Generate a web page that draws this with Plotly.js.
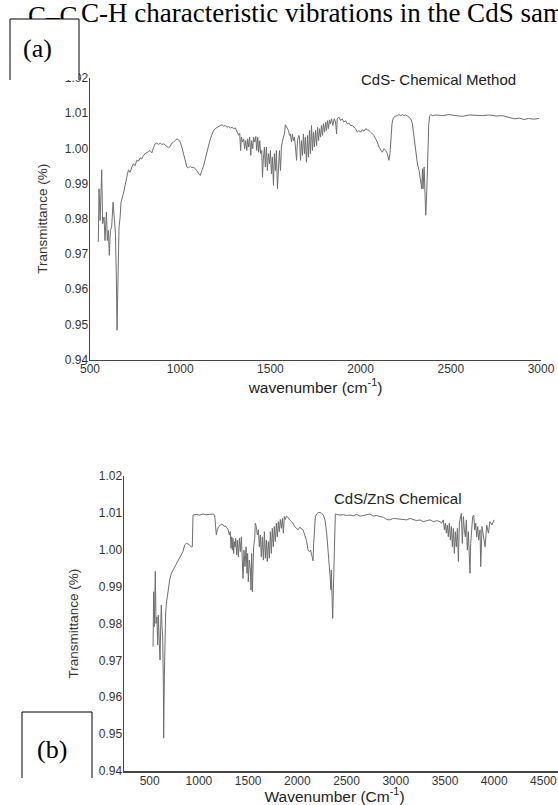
<!DOCTYPE html>
<html>
<head>
<meta charset="utf-8">
<script src="https://cdn.plot.ly/plotly-3.0.1.min.js"></script>
<style>
html,body{margin:0;padding:0;background:#fff;overflow:hidden;}
#chart{width:558px;height:805px;}
</style>
</head>
<body>
<div id="chart"></div>
<script>
// ---- data ----
const A_wn = [546,550,556,565,570,578,583,591,596,602,607,613,620,628,635,641,646,650,656,661,
667,672,685,694,704,713,722,732,741,750,759,769,778,787,796,806,815,824,833,843,
852,861,870,880,889,898,907,917,926,935,944,954,963,972,982,991,1000,1009,1019,1028,
1037,1046,1056,1065,1074,1083,1093,1102,1111,1120,1130,1139,1148,1157,1167,1176,1185,1194,1204,1213,
1222,1232,1241,1250,1259,1269,1278,1287,1296,1306,1315,1324,1330,1335,1339,1346,1352,1357,1363,1369,
1374,1380,1385,1391,1396,1402,1407,1413,1419,1424,1430,1435,1441,1446,1452,1456,1461,1467,1472,1478,
1483,1489,1495,1500,1506,1511,1517,1522,1528,1533,1539,1545,1550,1556,1561,1567,1572,1578,1583,1589,
1595,1600,1606,1611,1617,1622,1628,1633,1639,1645,1650,1657,1661,1667,1672,1678,1683,1689,1694,1700,
1706,1711,1717,1722,1728,1733,1739,1744,1750,1756,1761,1767,1772,1778,1783,1789,1794,1800,1806,1811,
1817,1822,1828,1833,1839,1846,1854,1861,1867,1870,1880,1889,1898,1907,1917,1926,1935,1944,1954,1963,
1972,1982,1991,2000,2009,2019,2028,2037,2046,2056,2065,2074,2083,2093,2102,2111,2120,2130,2139,2148,
2157,2163,2169,2174,2180,2189,2204,2213,2222,2232,2241,2250,2259,2269,2278,2287,2296,2306,2315,2324,
2333,2339,2343,2346,2352,2357,2361,2367,2372,2378,2383,2389,2398,2417,2454,2491,2528,2565,2602,2639,
2676,2713,2750,2787,2824,2852,2880,2906,2930,2960,2989];
const A_t = [0.9734,0.9885,0.9795,0.9939,0.9786,0.9805,0.9738,0.9819,0.9738,0.9767,0.9696,0.9767,0.9776,0.9847,0.9800,0.9757,0.9634,0.9483,0.9653,0.9776,
0.9805,0.9847,0.9871,0.9899,0.9918,0.9939,0.9932,0.9947,0.9956,0.9951,0.9966,0.9964,0.9973,0.9970,0.9980,0.9985,0.9989,0.9991,0.9994,0.9987,
1.0002,1.0013,1.0015,1.0011,1.0015,1.0011,1.0013,1.0008,1.0005,1.0002,1.0005,1.0015,1.0018,1.0022,1.0027,1.0024,1.0018,1.0004,0.9985,0.9966,
0.9947,0.9945,0.9949,0.9945,0.9947,0.9942,0.9937,0.9928,0.9923,0.9937,0.9951,0.9970,0.9989,1.0008,1.0027,1.0039,1.0051,1.0056,1.0060,1.0062,
1.0065,1.0067,1.0063,1.0065,1.0060,1.0062,1.0058,1.0060,1.0056,1.0058,1.0046,1.0037,1.0043,0.9994,1.0032,1.0018,1.0027,0.9999,1.0022,0.9994,
1.0027,1.0004,1.0032,0.9980,1.0022,0.9999,1.0032,1.0018,1.0034,0.9994,1.0032,0.9989,1.0022,0.9985,0.9994,0.9918,0.9970,1.0004,0.9947,1.0004,
0.9937,0.9985,0.9956,0.9994,0.9928,0.9975,0.9895,0.9985,0.9937,0.9994,0.9885,0.9975,0.9994,0.9937,1.0004,1.0022,1.0032,1.0041,1.0067,1.0062,
1.0056,1.0051,1.0037,1.0041,1.0018,1.0041,1.0022,1.0032,1.0004,0.9966,1.0022,1.0037,1.0032,0.9966,1.0022,0.9980,1.0041,0.9985,1.0032,0.9961,
1.0037,0.9975,1.0051,0.9985,1.0065,0.9994,1.0046,1.0004,1.0051,1.0008,1.0060,1.0022,1.0056,1.0032,1.0065,1.0037,1.0070,1.0046,1.0075,1.0051,
1.0079,1.0056,1.0081,1.0070,1.0084,1.0065,1.0084,1.0075,1.0041,1.0084,1.0089,1.0079,1.0084,1.0075,1.0079,1.0070,1.0072,1.0065,1.0065,1.0060,
1.0056,1.0046,1.0051,1.0046,1.0053,1.0049,1.0056,1.0053,1.0051,1.0046,1.0041,1.0037,1.0027,1.0018,1.0004,0.9994,0.9989,0.9999,0.9994,0.9985,
0.9966,0.9985,1.0032,1.0070,1.0084,1.0091,1.0093,1.0096,1.0093,1.0096,1.0093,1.0095,1.0092,1.0089,1.0084,1.0070,1.0032,0.9985,0.9956,0.9937,
0.9899,0.9885,0.9942,0.9885,0.9947,0.9861,0.9810,0.9880,0.9985,1.0070,1.0093,1.0096,1.0093,1.0095,1.0093,1.0096,1.0093,1.0091,1.0095,1.0093,
1.0093,1.0095,1.0092,1.0093,1.0089,1.0084,1.0086,1.0082,1.0085,1.0083,1.0085];

const B_wn = [534,540,547,557,564,574,581,588,598,605,611,618,625,632,639,642,649,655,662,672,
686,703,720,737,754,771,788,804,821,838,855,872,889,906,923,933,940,974,1008,1042,
1075,1109,1143,1160,1170,1177,1187,1201,1218,1235,1255,1275,1296,1309,1319,1326,1333,1340,1346,1353,
1360,1367,1373,1384,1390,1401,1411,1421,1431,1441,1448,1458,1468,1479,1489,1495,1502,1512,1523,1529,
1536,1543,1550,1556,1567,1573,1583,1594,1604,1614,1624,1634,1644,1655,1665,1675,1685,1695,1705,1716,
1726,1736,1746,1756,1766,1777,1787,1797,1807,1817,1827,1838,1848,1858,1868,1878,1888,1905,1922,1939,
1956,1973,1990,2007,2024,2041,2058,2075,2092,2109,2122,2135,2149,2159,2166,2173,2183,2196,2213,2230,
2247,2264,2281,2298,2315,2325,2335,2342,2345,2352,2359,2366,2372,2379,2386,2400,2433,2467,2501,2535,
2569,2603,2637,2671,2704,2738,2772,2806,2840,2874,2908,2941,2975,3009,3043,3077,3111,3145,3179,3212,
3246,3280,3314,3348,3382,3416,3450,3466,3483,3494,3504,3514,3524,3534,3544,3555,3565,3575,3585,3595,
3605,3615,3626,3636,3646,3656,3666,3676,3687,3697,3707,3717,3727,3737,3748,3754,3761,3771,3781,3792,
3802,3812,3822,3832,3842,3856,3863,3876,3890,3907,3924,3941,3957,3978,3998];
const B_t = [0.9737,0.9886,0.9791,0.9941,0.9800,0.9818,0.9742,0.9823,0.9746,0.9701,0.9782,0.9850,0.9791,0.9764,0.9638,0.9489,0.9656,0.9791,0.9828,0.9859,
0.9886,0.9918,0.9936,0.9945,0.9954,0.9959,0.9972,0.9979,0.9990,0.9995,1.0013,1.0017,1.0016,1.0013,1.0007,1.0008,1.0094,1.0096,1.0094,1.0097,
1.0095,1.0096,1.0097,1.0094,1.0072,1.0040,1.0054,1.0063,1.0067,1.0070,1.0064,1.0063,1.0055,1.0040,1.0049,1.0004,1.0035,0.9999,1.0031,0.9990,
1.0022,1.0008,1.0031,0.9986,1.0026,0.9981,1.0031,0.9995,1.0035,0.9972,0.9922,0.9999,0.9954,1.0008,0.9936,0.9990,0.9913,0.9972,0.9945,0.9891,
0.9990,0.9886,0.9972,1.0008,1.0031,1.0072,1.0063,1.0040,1.0054,1.0008,1.0040,0.9981,1.0035,0.9972,1.0049,0.9977,1.0026,0.9968,1.0022,0.9977,
1.0049,0.9990,1.0058,1.0008,1.0063,1.0022,1.0072,1.0035,1.0076,1.0049,1.0082,1.0058,1.0085,1.0045,1.0090,1.0082,1.0091,1.0088,1.0081,1.0076,
1.0072,1.0063,1.0058,1.0054,1.0061,1.0058,1.0054,1.0040,1.0026,0.9999,0.9995,0.9999,0.9986,0.9970,1.0017,1.0063,1.0090,1.0097,1.0101,1.0101,
1.0099,1.0094,1.0081,1.0045,0.9999,0.9954,0.9918,0.9891,0.9945,0.9891,0.9814,0.9891,0.9990,1.0072,1.0097,1.0096,1.0094,1.0095,1.0093,1.0094,
1.0092,1.0096,1.0091,1.0093,1.0095,1.0097,1.0091,1.0093,1.0090,1.0088,1.0082,1.0081,1.0085,1.0084,1.0085,1.0082,1.0081,1.0085,1.0081,1.0079,
1.0081,1.0076,1.0079,1.0081,1.0076,1.0079,1.0076,1.0072,1.0081,1.0054,1.0072,1.0045,1.0067,1.0035,1.0072,1.0026,1.0063,1.0008,1.0058,0.9990,
1.0049,1.0008,1.0058,0.9968,1.0072,1.0085,1.0099,1.0017,1.0090,1.0054,1.0035,1.0081,0.9999,1.0049,0.9977,0.9936,1.0017,1.0045,1.0090,1.0094,
1.0054,1.0072,1.0035,1.0063,1.0026,1.0054,0.9954,1.0063,1.0036,1.0008,1.0067,1.0045,1.0076,1.0067,1.0081];

const yTicks = [0.94,0.95,0.96,0.97,0.98,0.99,1.00,1.01,1.02];
const xTicksA = [500,1000,1500,2000,2500,3000];
const xTicksB = [500,1000,1500,2000,2500,3000,3500,4000,4500];
const labelA = 'CdS- Chemical Method';
const labelB = 'CdS/ZnS Chemical';
const xTitleA = 'wavenumber (cm<sup>-1</sup>)';
const xTitleB = 'Wavenumber (Cm<sup>-1</sup>)';
const yTitle = 'Transmittance (%)';
const paraLeft = 'C–C';
const paraRight = 'C-H characteristic vibrations in the CdS sam';

// ---- layout helpers (pixel -> paper fraction, margins are 0) ----
const W = 558, H = 805;
const px = v => v / W;
const py = v => 1 - v / H;

const SANS = 'Liberation Sans, Arial, sans-serif';
const SERIF = 'Liberation Serif, Times New Roman, serif';
const lineCol = '#6e6e6e';
const axCol = '#444';

const tickFont = {family: SANS, size: 12, color: '#333'};

const traces = [
  {x: A_wn, y: A_t, xaxis: 'x', yaxis: 'y', type: 'scatter', mode: 'lines',
   line: {color: lineCol, width: 1}, hoverinfo: 'skip'},
  {x: B_wn, y: B_t, xaxis: 'x2', yaxis: 'y2', type: 'scatter', mode: 'lines',
   line: {color: lineCol, width: 1}, hoverinfo: 'skip'}
];

function yAx(domain, standoff) {
  return {
    domain: domain, range: [0.94, 1.02], tickvals: yTicks, tickformat: '.2f',
    showgrid: false, zeroline: false, showline: true, linecolor: axCol, linewidth: 1.5,
    ticks: '', tickfont: tickFont, ticklabelstandoff: -2, automargin: false,
    title: {text: yTitle, font: {family: SANS, size: 13.5, color: '#333'}, standoff: standoff}
  };
}
function xAx(domain, range, ticks, title, standoff) {
  return {
    domain: domain, range: range, tickvals: ticks,
    showgrid: false, zeroline: false, showline: true, linecolor: axCol, linewidth: 1.5,
    ticks: '', tickfont: tickFont, ticklabelstandoff: -2, automargin: false,
    title: {text: title, font: {family: SANS, size: 15.5, color: '#222'}, standoff: standoff}
  };
}

const layout = {
  width: W, height: H,
  margin: {l: 0, r: 0, t: 0, b: 0},
  paper_bgcolor: '#fff', plot_bgcolor: 'rgba(0,0,0,0)',
  showlegend: false,
  xaxis: Object.assign(xAx([px(90), px(541)], [500, 3000], xTicksA, xTitleA, 6), {anchor: 'y'}),
  yaxis: Object.assign(yAx([py(359.5), py(78)], 14), {anchor: 'x'}),
  xaxis2: Object.assign(xAx([px(124), 1], [239, 4648], xTicksB, xTitleB + '&nbsp;&nbsp;&nbsp;', 4), {anchor: 'y2'}),
  yaxis2: Object.assign(yAx([py(771), py(476)], 17), {anchor: 'x2'}),
  shapes: [
    // start of the paragraph line, partly hidden by the (a) box
    {type: 'rect', xref: 'paper', yref: 'paper', layer: 'above',
     x0: px(25), x1: px(80), y0: py(26), y1: py(0), line: {width: 0}, fillcolor: 'rgba(0,0,0,0)',
     label: {text: paraLeft, textposition: 'middle left', padding: 0,
             font: {family: SERIF, size: 27, color: '#000'}}},
    // (a) box
    {type: 'rect', xref: 'paper', yref: 'paper', layer: 'above',
     x0: px(10), x1: px(79), y0: py(80), y1: py(19), line: {width: 0}, fillcolor: '#fff'},
    {type: 'line', xref: 'paper', yref: 'paper', layer: 'above', x0: px(10), x1: px(10), y0: py(80), y1: py(19), line: {color: '#000', width: 1}},
    {type: 'line', xref: 'paper', yref: 'paper', layer: 'above', x0: px(10), x1: px(79), y0: py(19), y1: py(19), line: {color: '#000', width: 1}},
    {type: 'line', xref: 'paper', yref: 'paper', layer: 'above', x0: px(79), x1: px(79), y0: py(80), y1: py(19), line: {color: '#000', width: 1}},
    // (b) box
    {type: 'rect', xref: 'paper', yref: 'paper', layer: 'above',
     x0: px(22), x1: px(92), y0: py(778), y1: py(712), line: {width: 0}, fillcolor: '#fff'},
    {type: 'line', xref: 'paper', yref: 'paper', layer: 'above', x0: px(22), x1: px(22), y0: py(778), y1: py(712), line: {color: '#000', width: 1}},
    {type: 'line', xref: 'paper', yref: 'paper', layer: 'above', x0: px(22), x1: px(92), y0: py(712), y1: py(712), line: {color: '#000', width: 1}},
    {type: 'line', xref: 'paper', yref: 'paper', layer: 'above', x0: px(92), x1: px(92), y0: py(778), y1: py(712), line: {color: '#000', width: 1}}
  ],
  annotations: [
    {text: paraRight, xref: 'paper', yref: 'paper', x: px(79), y: py(13), xanchor: 'left', yanchor: 'middle',
     showarrow: false, font: {family: SERIF, size: 27, color: '#000'}},
    {text: '(a)', xref: 'paper', yref: 'paper', x: px(37), y: py(49), xanchor: 'center', yanchor: 'middle',
     showarrow: false, font: {family: SERIF, size: 26, color: '#000'}},
    {text: '(b)', xref: 'paper', yref: 'paper', x: px(52), y: py(749), xanchor: 'center', yanchor: 'middle',
     showarrow: false, font: {family: SERIF, size: 26, color: '#000'}},
    {text: labelA, xref: 'paper', yref: 'paper', x: px(359), y: py(80), xanchor: 'left', yanchor: 'middle',
     showarrow: false, font: {family: SANS, size: 15, color: '#222'}},
    {text: labelB, xref: 'paper', yref: 'paper', x: px(332), y: py(498), xanchor: 'left', yanchor: 'middle',
     showarrow: false, font: {family: SANS, size: 15, color: '#222'}}
  ]
};

Plotly.newPlot('chart', traces, layout, {staticPlot: true, displayModeBar: false});
</script>
</body>
</html>
